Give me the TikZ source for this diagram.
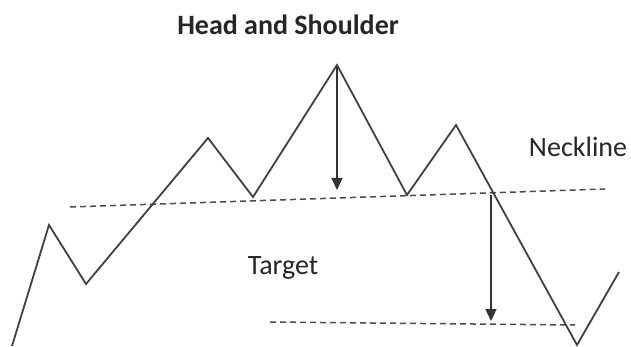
\documentclass[tikz,border=0pt]{standalone}
\usepackage{fontspec}
\setmainfont{Carlito}
\usetikzlibrary{arrows.meta}
\begin{document}
\begin{tikzpicture}[x=1pt,y=-1pt,
  price/.style={draw=black!75,line width=1.8pt,line join=miter},
  dashline/.style={draw=black!70,line width=1.5pt,dash pattern=on 6pt off 4pt},
  drop/.style={draw=black!80,line width=1.3pt,-{Triangle[length=12pt,width=11pt]}},
  lbl/.style={font=\fontsize{28}{32}\selectfont,text=black!85,inner sep=0pt}]
\useasboundingbox (0,0) rectangle (631,347);
\coordinate (p0) at (12,346);
\coordinate (p1) at (49,225);
\coordinate (p2) at (86,284);
\coordinate (p3) at (208,138);
\coordinate (p4) at (253,197);
\coordinate (p5) at (337,65);
\coordinate (p6) at (407,195);
\coordinate (p7) at (456,125);
\coordinate (p8) at (577,345);
\coordinate (p9) at (619,272);
\coordinate (n1) at (70,207);
\coordinate (n2) at (605,189);
\coordinate (t1) at (270,322);
\coordinate (t2) at (575,325);
\coordinate (a1s) at (337,67);
\coordinate (a1e) at (337,190);
\coordinate (a2s) at (491,195);
\coordinate (a2e) at (491,321);
\draw[dashline] (n1) -- (n2);
\draw[dashline] (t1) -- (t2);
\draw[price] (p0) -- (p1) -- (p2) -- (p3) -- (p4) -- (p5) -- (p6) -- (p7) -- (p8) -- (p9);
\draw[drop] (a1s) -- (a1e);
\draw[drop] (a2s) -- (a2e);
\node[lbl,font=\bfseries\fontsize{28}{32}\selectfont] (title) at (288,25) {Head and Shoulder};
\node[lbl] (neck) at (578,147) {Neckline};
\node[lbl] (target) at (283,268) {Target};
\end{tikzpicture}
\end{document}
